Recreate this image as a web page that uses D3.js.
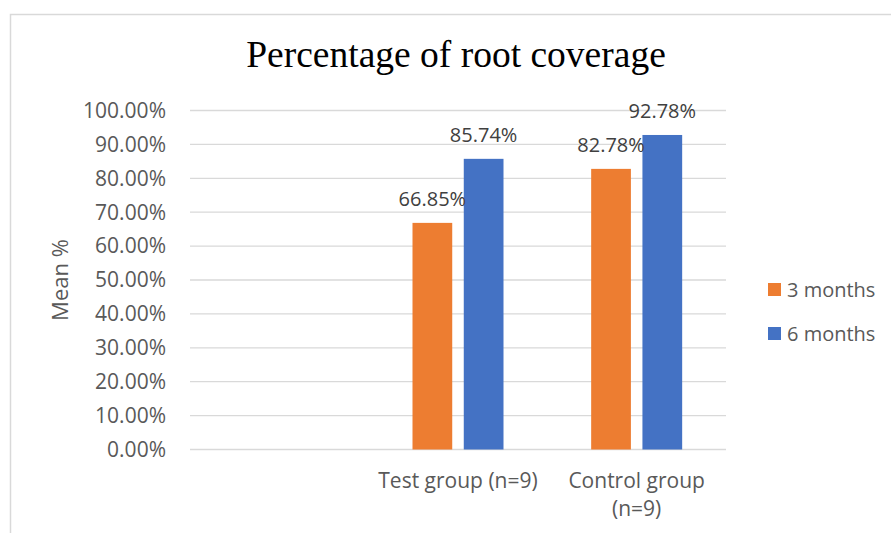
<!DOCTYPE html>
<html>
<head>
<meta charset="utf-8">
<script src="https://cdn.jsdelivr.net/npm/d3@7"></script>
<style>
  body { margin: 0; background: #fff; }
  svg { display: block; }
</style>
</head>
<body>
<div id="chart"></div>
<script>
// data
const categories = ["", "Test group (n=9)", "Control group (n=9)"];
const categoryLines = [[""], ["Test group (n=9)"], ["Control group", "(n=9)"]];
const seriesNames = ["3 months", "6 months"];
const threeMonths = [null, 0.6685, 0.8278];
const sixMonths = [null, 0.8574, 0.9278];
const yTicks = [0, 0.1, 0.2, 0.3, 0.4, 0.5, 0.6, 0.7, 0.8, 0.9, 1.0];
const colors = ["#ed7d31", "#4472c4"];

const width = 891, height = 533;
const margin = { top: 110.5, right: 165, bottom: 83.5, left: 190 };
const font = "'Open Sans', Lato, sans-serif";

const svg = d3.select("#chart").append("svg")
    .attr("width", width)
    .attr("height", height);

// chart frame (runs off right and bottom)
svg.append("rect")
    .attr("x", 10.5).attr("y", 14.5)
    .attr("width", 900).attr("height", 600)
    .attr("fill", "none")
    .attr("stroke", "#d9d9d9")
    .attr("stroke-width", 1.5);

const x = d3.scaleBand()
    .domain(categories.map((c, i) => i))
    .range([margin.left, width - margin.right])
    .padding(0);

const y = d3.scaleLinear()
    .domain([0, 1])
    .range([height - margin.bottom, margin.top]);

const inner = d3.scaleBand()
    .domain(seriesNames)
    .range([x.bandwidth() / 2 - 45.5, x.bandwidth() / 2 + 45.5])
    .paddingInner(0.225);

// gridlines
svg.append("g")
    .selectAll("line")
    .data(yTicks)
    .join("line")
    .attr("x1", margin.left)
    .attr("x2", width - margin.right)
    .attr("y1", d => y(d))
    .attr("y2", d => y(d))
    .attr("stroke", "#d9d9d9")
    .attr("stroke-width", 1.3);

// y tick labels
svg.append("g")
    .selectAll("text")
    .data(yTicks)
    .join("text")
    .attr("x", 166)
    .attr("y", d => y(d))
    .attr("dy", "0.35em")
    .attr("text-anchor", "end")
    .attr("fill", "#595959")
    .style("font-family", font)
    .style("font-size", "21px")
    .text(d => d3.format(".2%")(d));

// y axis title
svg.append("text")
    .attr("transform", "translate(60,280) rotate(-90)")
    .attr("text-anchor", "middle")
    .attr("dy", "0.35em")
    .attr("fill", "#595959")
    .style("font-family", font)
    .style("font-size", "22px")
    .text("Mean %");

// bars
const series = [threeMonths, sixMonths];
const barData = [];
series.forEach((vals, s) => {
    vals.forEach((v, i) => {
        if (v != null) barData.push({ cat: i, name: seriesNames[s], value: v, color: colors[s] });
    });
});

svg.append("g")
    .selectAll("rect")
    .data(barData)
    .join("rect")
    .attr("x", d => x(d.cat) + inner(d.name))
    .attr("y", d => y(d.value))
    .attr("width", inner.bandwidth())
    .attr("height", d => y(0) - y(d.value))
    .attr("fill", d => d.color);

// value labels
svg.append("g")
    .selectAll("text")
    .data(barData)
    .join("text")
    .attr("x", d => x(d.cat) + inner(d.name) + inner.bandwidth() / 2)
    .attr("y", d => y(d.value) - 24)
    .attr("dy", "0.35em")
    .attr("text-anchor", "middle")
    .attr("fill", "#404040")
    .style("font-family", font)
    .style("font-size", "20px")
    .text(d => d3.format(".2%")(d.value));

// category labels
const catG = svg.append("g")
    .selectAll("text")
    .data(categoryLines)
    .join("text")
    .attr("text-anchor", "middle")
    .attr("fill", "#595959")
    .style("font-family", font)
    .style("font-size", "21px");

catG.selectAll("tspan")
    .data((d, i) => d.map(t => ({ t, i })))
    .join("tspan")
    .attr("x", d => x(d.i) + x.bandwidth() / 2)
    .attr("y", (d, j) => 481 + j * 28)
    .attr("dy", "0.35em")
    .text(d => d.t);

// title
svg.append("text")
    .attr("x", 456)
    .attr("y", 67)
    .attr("text-anchor", "middle")
    .attr("fill", "#000")
    .style("font-family", "'Liberation Serif', 'Times New Roman', serif")
    .style("font-size", "37.5px")
    .text("Percentage of root coverage");

// legend
const legend = svg.append("g")
    .selectAll("g")
    .data(seriesNames)
    .join("g")
    .attr("transform", (d, i) => `translate(768,${283 + i * 44})`);

legend.append("rect")
    .attr("width", 13)
    .attr("height", 13)
    .attr("fill", (d, i) => colors[i]);

legend.append("text")
    .attr("x", 19)
    .attr("y", 6.5)
    .attr("dy", "0.35em")
    .attr("fill", "#595959")
    .style("font-family", font)
    .style("font-size", "20px")
    .text(d => d);
</script>
</body>
</html>
